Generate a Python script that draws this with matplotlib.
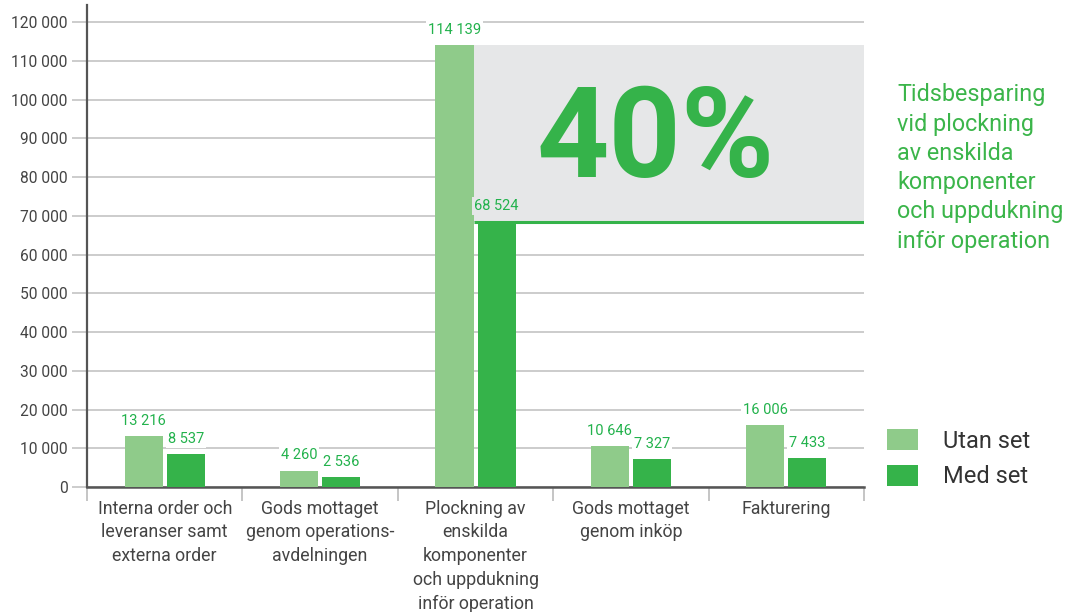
import numpy as np
import matplotlib
matplotlib.use('Agg')
import matplotlib.pyplot as plt
from matplotlib.patches import Patch

plt.rcParams['font.family'] = ['Roboto', 'DejaVu Sans']

# data
categories = ['Interna order och\nleveranser samt\nexterna order',
              'Gods mottaget\ngenom operations-\navdelningen',
              'Plockning av\nenskilda\nkomponenter\noch uppdukning\ninför operation',
              'Gods mottaget\ngenom inköp',
              'Fakturering']
utan_set = [13216, 4260, 114139, 10646, 16006]
med_set = [8537, 2536, 68524, 7327, 7433]
series_names = ['Utan set', 'Med set']
yticks = np.arange(0, 120001, 10000)
note = 'Tidsbesparing\nvid plockning\nav enskilda\nkomponenter\noch uppdukning\ninför operation'
highlight = 2  # category with the savings box

LIGHT = '#8fcb8a'
DARK = '#35b34a'
LABEL_GREEN = '#22b24c'
BOX_GRAY = '#e6e7e8'
TEXT_GRAY = '#444444'

def fmt(v):
    return f'{v:,}'.replace(',', ' ')

fig = plt.figure(figsize=(10.68, 6.12), dpi=100)
ax = fig.add_axes([0.0815, 0.2042, 0.7275, 0.7876])

x = np.arange(len(categories))
w = 0.245
off = 0.1355

# savings box behind the highlighted pair
x0 = highlight - off + w / 2
ax.fill_between([x0, 4.5], med_set[highlight], utan_set[highlight],
                color=BOX_GRAY, lw=0, zorder=1)
ax.hlines(med_set[highlight], x0, 4.5, color=DARK, lw=2.2, zorder=2)

ax.bar(x - off, utan_set, w, color=LIGHT, zorder=3)
ax.bar(x + off, med_set, w, color=DARK, zorder=3)

for i in range(len(categories)):
    for xs, v in ((x[i] - off, utan_set[i]), (x[i] + off, med_set[i])):
        inside = (i == highlight and v == med_set[i])
        bg = BOX_GRAY if inside else 'white'
        ax.text(xs, v + 2100, fmt(v), ha='center', va='bottom', fontsize=10.5,
                color=LABEL_GREEN, zorder=4,
                bbox=dict(facecolor=bg, edgecolor='none', pad=1.5))

saving = round((1 - med_set[highlight] / utan_set[highlight]) * 100)
ax.text(3.16, 89000, f'{saving}%', ha='center', va='center', fontsize=91,
        fontweight='bold', color=DARK, zorder=4,
        family=['Liberation Sans Narrow', 'Roboto', 'DejaVu Sans'])

ax.set_xlim(-0.5, 4.5)
ax.set_ylim(0, 124400)
ax.set_yticks(yticks)
ax.set_yticklabels([fmt(v) for v in yticks], fontsize=11.2, color=TEXT_GRAY)
ax.yaxis.grid(True, color='#c8c8c8', lw=1.3, zorder=0)
ax.set_axisbelow(True)
ax.tick_params(axis='y', length=11, width=1.3, color='#c8c8c8', pad=3)

ax.set_xticks(x)
ax.set_xticklabels(categories, fontsize=12.8, color=TEXT_GRAY, linespacing=1.42)
ax.tick_params(axis='x', which='major', length=0, pad=9)
ax.set_xticks(np.arange(-0.5, 4.6, 1), minor=True)
ax.tick_params(axis='x', which='minor', length=10, width=1.2, color='#bbbbbb')

for s in ('top', 'right'):
    ax.spines[s].set_visible(False)
ax.spines['left'].set_color('#555555')
ax.spines['left'].set_linewidth(1.6)
ax.spines['bottom'].set_color('#555555')
ax.spines['bottom'].set_linewidth(1.8)

fig.text(0.840, 0.864, note, ha='left', va='top', fontsize=16.8,
         color='#3bb54a', linespacing=1.35)

handles = [Patch(facecolor=LIGHT), Patch(facecolor=DARK)]
fig.legend(handles, series_names, loc='upper left',
           bbox_to_anchor=(0.8195, 0.318), frameon=False, fontsize=17,
           handlelength=1.3, handleheight=1.0, handletextpad=1.05,
           labelspacing=0.5, borderpad=0, labelcolor='#333333')

fig.savefig('out.png', dpi=100)
